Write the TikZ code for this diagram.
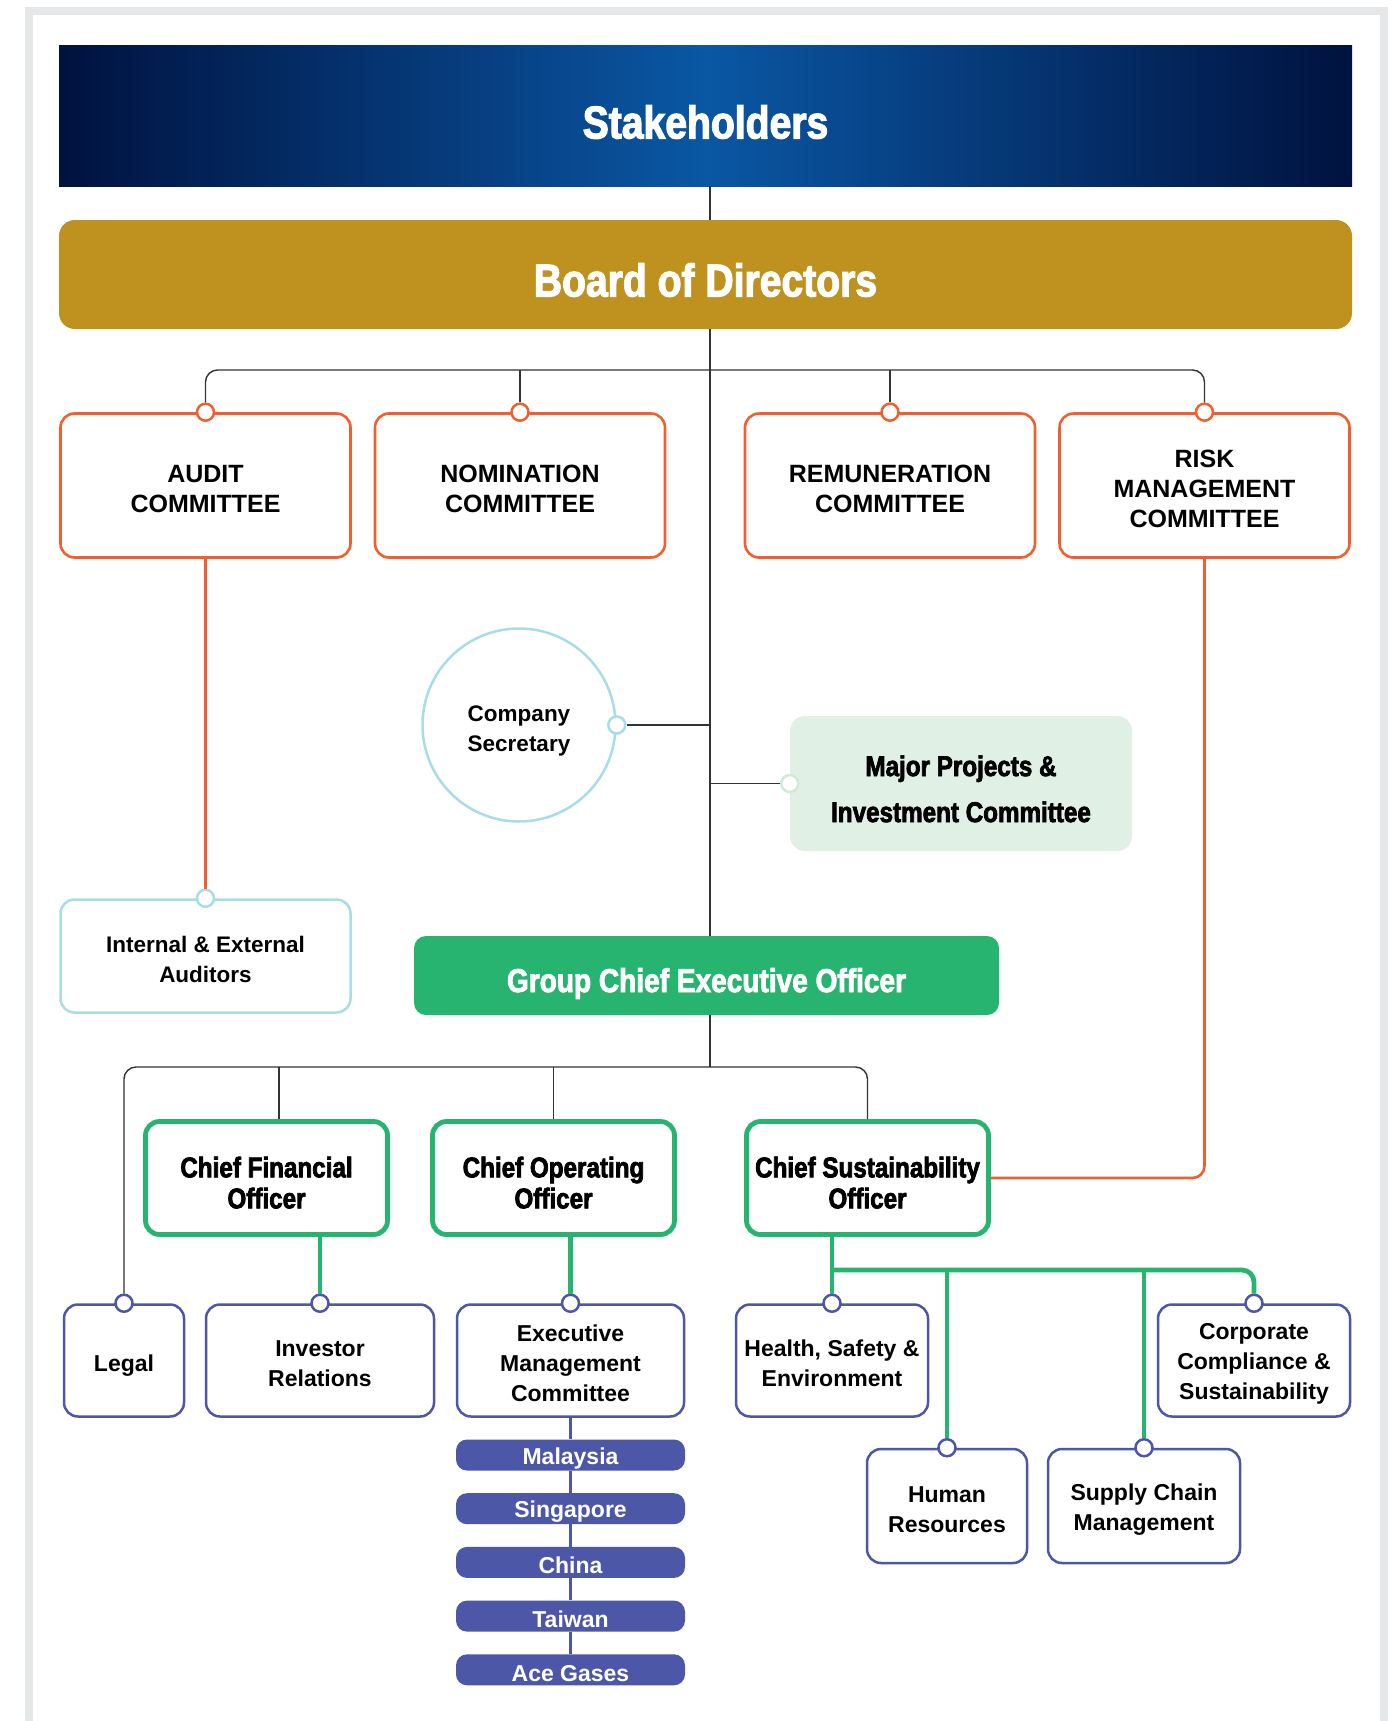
\documentclass[tikz,border=0pt]{standalone}
\usepackage{fontspec}
\setmainfont{Liberation Sans}
\newfontfamily\condf{Liberation Sans}[FakeStretch=0.85,FakeBold=2.5]
\usetikzlibrary{calc}
\definecolor{navy}{HTML}{00123F}
\definecolor{midblue}{HTML}{0A57A4}
\definecolor{gold}{HTML}{BF911F}
\definecolor{orgc}{HTML}{F15F2E}
\definecolor{grnc}{HTML}{27B470}
\definecolor{lblue}{HTML}{A8DCE6}
\definecolor{lgreen}{HTML}{E0F0E5}
\definecolor{lgreenedge}{HTML}{D2E9D8}
\definecolor{purp}{HTML}{4C57A7}
\definecolor{framec}{HTML}{E6E7E8}
\definecolor{linec}{HTML}{333333}
\newcommand\fcmt{\fontsize{25}{30}\selectfont\bfseries}
\newcommand\fsub{\fontsize{23}{30}\selectfont\bfseries}
\newcommand\fttl{\condf\bfseries\fontsize{28.5}{31}\selectfont}
\newcommand\dn[1][1.0em]{\rule{0pt}{#1}}
\begin{document}
\begin{tikzpicture}[x=1pt,y=-1pt,
  blk/.style={draw=linec, line width=1.4},
  oline/.style={draw=orgc, line width=2.6},
  gline/.style={draw=grnc, line width=4.8},
  pline/.style={draw=purp, line width=2.2},
  cmte/.style={draw=orgc, line width=2.6, rounded corners=14, fill=white, minimum width=290, minimum height=144, align=center, font=\fcmt, inner sep=0},
  offbox/.style={draw=grnc, line width=4.8, rounded corners=14, fill=white, minimum width=242, minimum height=113, align=center, font=\fttl, inner sep=0},
  subbox/.style={draw=purp, line width=2.5, rounded corners=14, fill=white, minimum height=112, align=center, font=\fsub, inner sep=0},
  pill/.style={fill=purp, rounded corners=11, minimum width=229, minimum height=31, text=white, font=\fsub, inner sep=0},
  ocirc/.style={circle, draw=orgc, fill=white, line width=2.5, minimum size=17, inner sep=0},
  bcirc/.style={circle, draw=lblue, fill=white, line width=2.5, minimum size=17, inner sep=0},
  gcirc/.style={circle, draw=lgreenedge, fill=white, line width=2.5, minimum size=17, inner sep=0},
  pcirc/.style={circle, draw=purp, fill=white, line width=2.5, minimum size=17, inner sep=0},
]
\useasboundingbox (0,0) rectangle (1396,1721);
\fill[white] (0,0) rectangle (1396,1721);
% frame
\draw[framec, line width=8] (29,1721) -- (29,11) -- (1384,11) -- (1384,1721);

% top bars
\node[minimum width=1293, minimum height=141, inner sep=0, left color=navy, right color=navy, middle color=midblue] (stake) at (705.5,115.5) {};
\node[font=\condf\bfseries\fontsize{46}{50}\selectfont, text=white, inner sep=0] (staketext) at (705.5,122) {Stakeholders};
\node[minimum width=1293, minimum height=109, inner sep=0, fill=gold, rounded corners=16] (board) at (705.5,274.5) {};
\node[font=\condf\bfseries\fontsize{46}{50}\selectfont, text=white, inner sep=0] (boardtext) at (705.5,280) {Board of Directors};

% committees
\node[cmte] (audit) at (205.5,485.5) {\dn AUDIT\\COMMITTEE};
\node[cmte] (nom) at (520,485.5) {\dn NOMINATION\\COMMITTEE};
\node[cmte] (rem) at (890,485.5) {\dn REMUNERATION\\COMMITTEE};
\node[cmte] (risk) at (1204.5,485.5) {\dn RISK\\MANAGEMENT\\COMMITTEE};

% company secretary and major projects
\node[circle, draw=lblue, line width=2.5, fill=white, minimum size=193, inner sep=0, align=center, font=\fontsize{22.5}{30}\selectfont\bfseries] (cs) at (519,725) {\dn[1.2em]Company\\Secretary};
\node[fill=lgreen, rounded corners=15, minimum width=342, minimum height=135, inner sep=0, align=center, font=\condf\bfseries\fontsize{28.5}{46}\selectfont] (mp) at (961,783.5) {\dn[1.1em]Major Projects \&\\Investment Committee};

% auditors
\node[draw=lblue, line width=2.5, rounded corners=14, fill=white, minimum width=290, minimum height=113, inner sep=0, align=center, font=\fontsize{22.5}{30}\selectfont\bfseries] (aud) at (205.5,956) {\dn Internal \& External\\Auditors};

% GCEO
\node[fill=grnc, rounded corners=12, minimum width=585, minimum height=79, inner sep=0] (gceo) at (706.5,975.5) {};
\node[font=\condf\bfseries\fontsize{33}{36}\selectfont, text=white, inner sep=0] (gceotext) at (706.5,983.5) {Group Chief Executive Officer};

% officers
\node[offbox] (cfo) at (266.5,1178) {\dn[1.05em]Chief Financial\\Officer};
\node[offbox] (coo) at (553.5,1178) {\dn[1.05em]Chief Operating\\Officer};
\node[offbox] (cso) at (867.5,1178) {\dn[1.05em]Chief Sustainability\\Officer};

% lower boxes
\node[subbox, minimum width=120] (legal) at (124,1360.5) {\dn[1.2em]Legal};
\node[subbox, minimum width=228] (ir) at (320,1360.5) {\dn Investor\\Relations};
\node[subbox, minimum width=227] (emc) at (570.5,1360.5) {\dn Executive\\Management\\Committee};
\node[subbox, minimum width=192] (hse) at (832,1360.5) {\dn Health, Safety \&\\Environment};
\node[subbox, minimum width=192] (corp) at (1254,1360.5) {\dn Corporate\\Compliance \&\\Sustainability};
\node[subbox, minimum width=160, minimum height=114] (hr) at (947,1506) {\dn Human\\Resources};
\node[subbox, minimum width=192, minimum height=114] (scm) at (1144,1506) {\dn Supply Chain\\Management};

% country pills
\node[pill] (p1) at (570.5,1455) {\dn Malaysia};
\node[pill] (p2) at (570.5,1508.7) {\dn Singapore};
\node[pill] (p3) at (570.5,1562.4) {\dn China};
\node[pill] (p4) at (570.5,1616.1) {\dn Taiwan};
\node[pill] (p5) at (570.5,1669.8) {\dn Ace Gases};

% connector circles
\node[ocirc] (ac) at (audit.north) {};
\node[ocirc] (nc) at (nom.north) {};
\node[ocirc] (rc) at (rem.north) {};
\node[ocirc] (kc) at (risk.north) {};
\node[bcirc] (csc) at (cs.east) {};
\node[gcirc] (mpc) at (mp.west) {};
\node[bcirc] (auc) at (aud.north) {};
\node[pcirc] (lc) at (legal.north) {};
\node[pcirc] (irc) at (ir.north) {};
\node[pcirc] (emcc) at (emc.north) {};
\node[pcirc] (hsec) at (hse.north) {};
\node[pcirc] (cpc) at (corp.north) {};
\node[pcirc] (hrc) at (hr.north) {};
\node[pcirc] (scc) at (scm.north) {};

% coordinates
\coordinate (sp) at (710,0);
\coordinate (bbus) at (710,370);
\coordinate (obus) at (710,1067);
\coordinate (cfob) at (279,1067);
\coordinate (gbus) at (832,1270);

% black connectors
\draw[blk] (stake.south -| sp) -- (board.north -| sp);
\draw[blk] (board.south -| sp) -- (gceo.north -| sp);
\draw[blk] (gceo.south -| sp) -- (obus);
\draw[blk, rounded corners=12] (ac.north) |- (bbus) -| (kc.north);
\draw[blk] (nc.north) -- (nc.north |- bbus);
\draw[blk] (rc.north) -- (rc.north |- bbus);
\draw[blk] (csc.east) -- (csc.east -| sp);
\draw[blk] (mpc.west -| sp) -- (mpc.west);
\draw[blk, rounded corners=12] (lc.north) |- (obus) -| (cso.north);
\draw[blk] (cfob) -- (cfob |- cfo.north);
\draw[blk] (coo.north |- obus) -- (coo.north);

% orange connectors
\draw[oline] (audit.south) -- (auc.north);
\draw[oline, rounded corners=12] (risk.south) |- (cso.east);

% green connectors
\draw[gline] (cfo.south -| irc) -- (irc.north);
\draw[gline] (coo.south -| emcc) -- (emcc.north);
\draw[gline] (cso.south -| hsec) -- (hsec.north);
\draw[gline, rounded corners=12] (gbus) -| (cpc.north);
\draw[gline] (hrc.north |- gbus) -- (hrc.north);
\draw[gline] (scc.north |- gbus) -- (scc.north);

% purple connectors
\draw[pline] (emc.south) -- (p1.north);
\draw[pline] (p1.south) -- (p2.north);
\draw[pline] (p2.south) -- (p3.north);
\draw[pline] (p3.south) -- (p4.north);
\draw[pline] (p4.south) -- (p5.north);
\end{tikzpicture}
\end{document}
